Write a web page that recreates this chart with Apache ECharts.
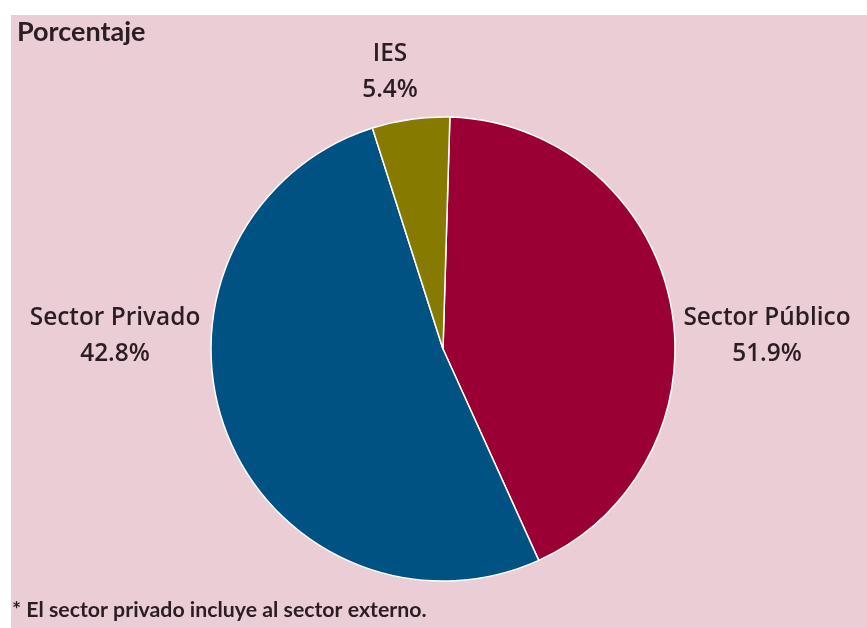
<!DOCTYPE html>
<html>
<head>
<meta charset="utf-8">
<script src="https://cdn.jsdelivr.net/npm/echarts@6/dist/echarts.min.js"></script>
<style>
html,body{margin:0;padding:0;background:#ffffff;}
#chart{width:867px;height:628px;}
</style>
</head>
<body>
<div id="chart"></div>
<script>
// Categories in drawing order (clockwise from top)
var categories = ['Sector Público', 'Sector Privado', 'IES'];
// Percentages as printed on the labels
var printedShares = [51.9, 42.8, 5.4];
// Slice sizes as drawn in the reference picture
var drawnShares = [42.8, 51.9, 5.4];
var sliceColors = ['#9A0033', '#005282', '#867A00'];
var yAxisTitle = 'Porcentaje';
var footnote = '* El sector privado incluye al sector externo.';

var labelSpots = [
  {x: 767, y: 336},
  {x: 115, y: 336},
  {x: 390, y: 72}
];

var chart = echarts.init(document.getElementById('chart'), null, {renderer: 'canvas'});
var textColor = '#2b1d24';
var fontFam = 'Lato, "Open Sans", sans-serif';

chart.setOption({
  backgroundColor: '#ffffff',
  animation: false,
  title: {
    text: yAxisTitle,
    left: 17,
    top: 19,
    padding: 0,
    textStyle: {fontFamily: fontFam, fontSize: 27, fontWeight: 'bold', color: textColor}
  },
  graphic: [
    {type: 'rect', z: -10, shape: {x: 11, y: 15, width: 856, height: 613}, style: {fill: '#EBCDD5'}},
    {type: 'text', left: 12, top: 600, style: {text: footnote, fontFamily: fontFam, fontSize: 21.3, fontWeight: 'bold', fill: textColor}}
  ],
  series: [{
    type: 'pie',
    center: [443, 349],
    radius: [0, 232],
    startAngle: 88.3,
    clockwise: true,
    avoidLabelOverlap: false,
    itemStyle: {borderColor: '#ffffff', borderWidth: 1.5},
    label: {
      show: true,
      position: 'outside',
      fontFamily: '"Open Sans", sans-serif',
      fontSize: 24.4,
      fontWeight: 600,
      lineHeight: 36,
      color: textColor,
      align: 'center',
      formatter: function (p) { return categories[p.dataIndex] + '\n' + printedShares[p.dataIndex].toFixed(1) + '%'; }
    },
    labelLine: {show: false},
    labelLayout: function (p) {
      var s = labelSpots[p.dataIndex];
      return {x: s.x, y: s.y, align: 'center', verticalAlign: 'middle'};
    },
    emphasis: {disabled: true},
    data: categories.map(function (c, i) {
      return {name: c, value: drawnShares[i], itemStyle: {color: sliceColors[i]}};
    })
  }]
});
</script>
</body>
</html>
